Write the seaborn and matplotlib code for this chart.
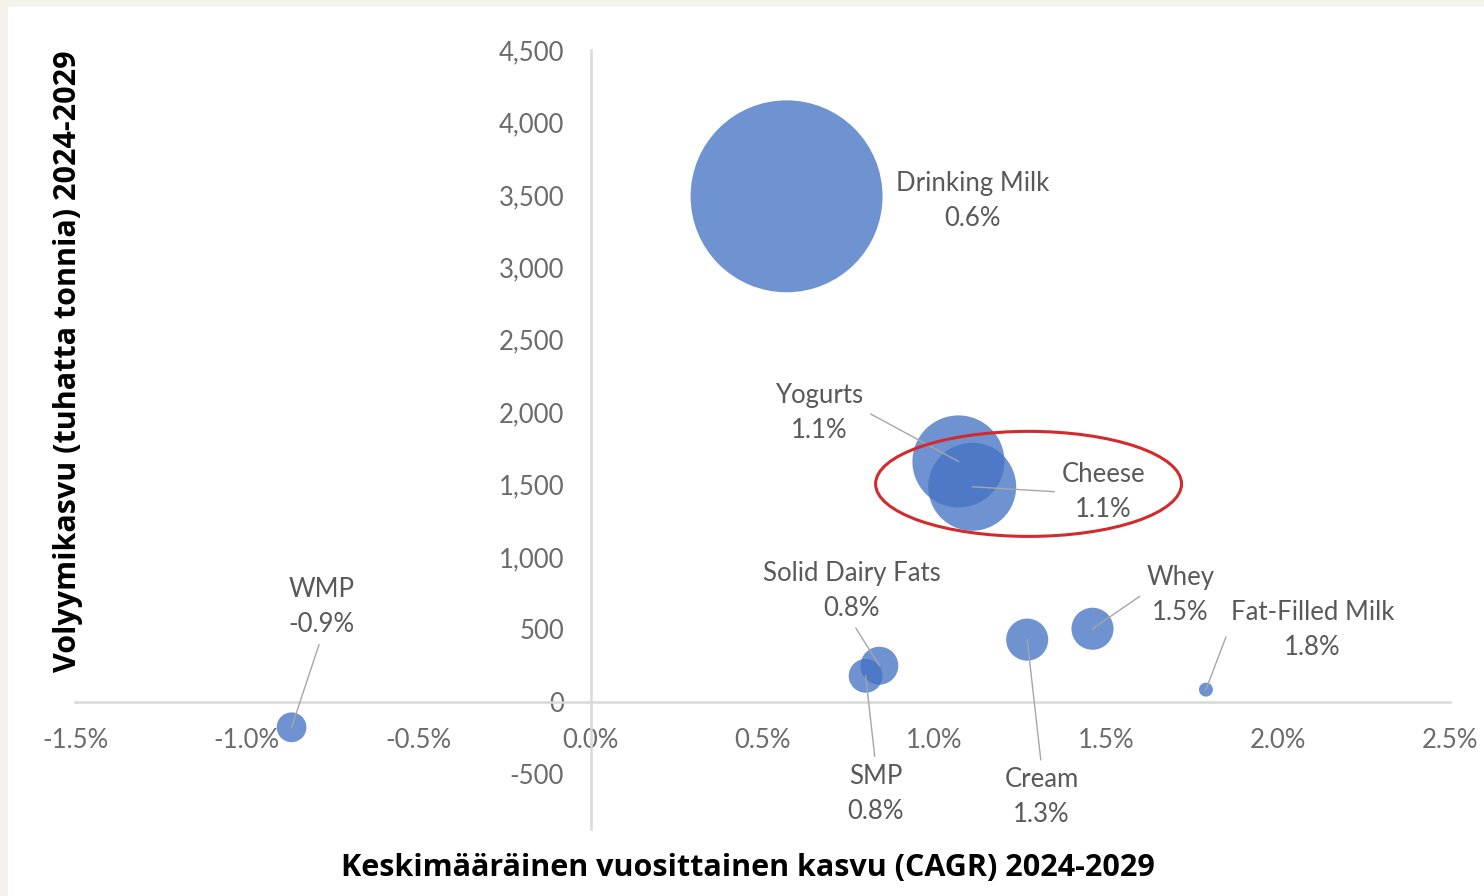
import numpy as np
import pandas as pd
import matplotlib.pyplot as plt
import seaborn as sns
from matplotlib.patches import Ellipse, Rectangle
from matplotlib.ticker import FuncFormatter

# Tuotteet, CAGR (%), volyymikasvu (tuhatta tonnia) ja kuplan koko (suhteellinen)
products = ['Drinking Milk', 'Yogurts', 'Cheese', 'WMP', 'SMP',
            'Solid Dairy Fats', 'Cream', 'Whey', 'Fat-Filled Milk']
cagr = [0.57, 1.07, 1.11, -0.87, 0.80, 0.84, 1.27, 1.46, 1.79]
volume_growth = [3490, 1660, 1485, -175, 180, 250, 430, 505, 85]
bubble_size = [100, 23, 21, 2.4, 3.1, 3.9, 4.8, 4.8, 0.53]
cagr_labels = ['0.6%', '1.1%', '1.1%', '-0.9%', '0.8%', '0.8%', '1.3%', '1.5%', '1.8%']

x_ticks = [-1.5, -1.0, -0.5, 0.0, 0.5, 1.0, 1.5, 2.0, 2.5]
y_ticks = [-500, 0, 500, 1000, 1500, 2000, 2500, 3000, 3500, 4000, 4500]

df = pd.DataFrame({'Tuote': products, 'CAGR': cagr, 'Kasvu': volume_growth,
                   'Koko': bubble_size, 'Label': cagr_labels})

# Tekstien sijainnit (datayksiköissä) ja johtoviivan lähtökohta tekstilaatikossa
label_pos = {
    'Drinking Milk': ((1.11, 3457), None),
    'Yogurts': ((0.666, 1993), (1.0, 0.55)),
    'Cheese': ((1.492, 1448), (0.0, 0.5)),
    'WMP': ((-0.783, 653), (0.5, 0.0)),
    'SMP': ((0.829, -635), (0.5, 1.0)),
    'Solid Dairy Fats': ((0.759, 764), (0.5, 0.0)),
    'Cream': ((1.312, -659), (0.5, 1.0)),
    'Whey': ((1.716, 740), (0.0, 0.55)),
    'Fat-Filled Milk': ((2.10, 494), (0.0, 0.6)),
}

sns.set_style('white')
plt.rcParams['font.family'] = ['Lato', 'DejaVu Sans']

fig = plt.figure(figsize=(14.84, 8.96), dpi=100, facecolor='#F5F2EB')
fig.patches.append(Rectangle((8 / 1484, 0), 1, 1 - 7 / 896, transform=fig.transFigure,
                             facecolor='white', edgecolor='none', zorder=-10))
ax = fig.add_axes([75 / 1484, 1 - 829.4 / 896, 1375 / 1484, (829.4 - 50) / 896])
ax.set_facecolor('none')

max_size = max(bubble_size)
sns.scatterplot(data=df, x='CAGR', y='Kasvu', size='Koko', sizes=(0, 19100),
                size_norm=(0, max_size), color='#4472C4', alpha=0.77,
                edgecolor='none', legend=False, ax=ax, zorder=3)

ax.set_xlim(-1.5, 2.5)
ax.set_ylim(-880, 4500)
ax.set_xticks(x_ticks)
ax.set_yticks(y_ticks)
ax.xaxis.set_major_formatter(FuncFormatter(lambda v, p: f'{v:.1f}%'))
ax.yaxis.set_major_formatter(FuncFormatter(lambda v, p: f'{int(v):,}'))
ax.tick_params(axis='x', length=0, pad=19, labelsize=18.5, colors='#6b6b6b')
ax.tick_params(axis='y', length=0, pad=19, labelsize=18.5, colors='#6b6b6b')

for side in ['top', 'right']:
    ax.spines[side].set_visible(False)
ax.spines['left'].set_position(('data', 0))
ax.spines['bottom'].set_position(('data', 0))
for side in ['left', 'bottom']:
    ax.spines[side].set_color('#d9d9d9')
    ax.spines[side].set_linewidth(1.8)
    ax.spines[side].set_zorder(1)
ax.set_xlabel('')
ax.set_ylabel('')

for _, row in df.iterrows():
    pos, rel = label_pos[row['Tuote']]
    text = f"{row['Tuote']}\n{row['Label']}"
    if rel is None:
        ax.text(pos[0], pos[1], text, ha='center', va='center', fontsize=18.5,
                color='#595959', linespacing=1.5, zorder=5)
    else:
        ax.annotate(text, xy=(row['CAGR'], row['Kasvu']), xytext=pos,
                    ha='center', va='center', fontsize=18.5, color='#595959',
                    linespacing=1.5, zorder=5,
                    arrowprops=dict(arrowstyle='-', color='#a6a6a6', lw=1.0,
                                    relpos=rel, shrinkA=3, shrinkB=0))

# Punainen korostusellipsi juuston ympärillä
ax.add_patch(Ellipse((1.274, 1505), 0.89, 725, facecolor='none',
                     edgecolor='#D42A2E', lw=2.2, zorder=6))

fig.text(748 / 1484, 1 - 868 / 896, 'Keskimääräinen vuosittainen kasvu (CAGR) 2024-2029',
         ha='center', va='center', fontsize=22, fontweight='bold',
         family=['Open Sans', 'DejaVu Sans'], color='black')
fig.text(68 / 1484, 1 - 361 / 896, 'Volyymikasvu (tuhatta tonnia) 2024-2029',
         ha='center', va='center', rotation=90, fontsize=22, fontweight='bold',
         family=['Open Sans', 'DejaVu Sans'], color='black')

fig.savefig('out.png', dpi=100, facecolor=fig.get_facecolor())
